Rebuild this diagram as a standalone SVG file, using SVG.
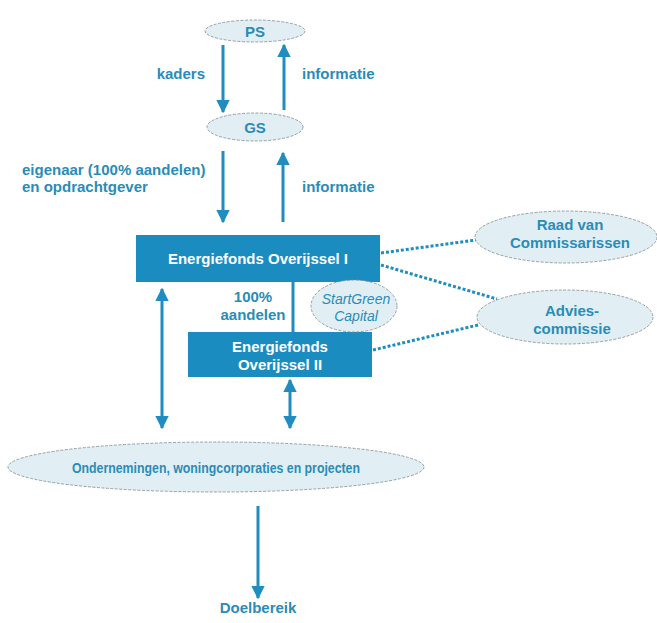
<svg xmlns="http://www.w3.org/2000/svg" width="657" height="623" viewBox="0 0 657 623">
<defs>
<marker id="ah" viewBox="0 0 10 10" refX="9" refY="5" markerWidth="4.5" markerHeight="4.5" orient="auto-start-reverse" markerUnits="strokeWidth">
<path d="M0,0 L10,5 L0,10 Z" fill="#1f8dbf"/>
</marker>
</defs>
<style>
.t{font-family:"Liberation Sans",Arial,sans-serif;font-weight:bold;font-size:15px;fill:#2a8cb7;}
.w{font-family:"Liberation Sans",Arial,sans-serif;font-weight:bold;font-size:15px;fill:#ffffff;}
.i{font-family:"Liberation Sans",Arial,sans-serif;font-style:italic;font-size:14px;fill:#2a8cb7;}
.el{fill:#e1eff5;stroke:#7f8c92;stroke-width:0.8;stroke-dasharray:3 1.5;}
.box{fill:#1b8cc0;}
.ar{stroke:#1f8dbf;stroke-width:3;fill:none;marker-end:url(#ah);}
.ar2{stroke:#1f8dbf;stroke-width:3;fill:none;marker-end:url(#ah);marker-start:url(#ah);}
.dot{stroke:#1f8dbf;stroke-width:3;stroke-dasharray:3 2;fill:none;}
</style>
<rect width="657" height="623" fill="#ffffff"/>
<g id="connectors">
<line class="ar" x1="223" y1="45" x2="223" y2="112"/>
<line class="ar" x1="284" y1="110" x2="284" y2="45"/>
<line class="ar" x1="223" y1="151" x2="223" y2="222"/>
<line class="ar" x1="283" y1="222" x2="283" y2="153"/>
<line stroke="#1f8dbf" stroke-width="3" x1="293" y1="282" x2="293" y2="332"/>
<line class="ar2" x1="162" y1="289" x2="162" y2="428"/>
<line class="ar2" x1="290" y1="380" x2="290" y2="428"/>
<line class="ar" x1="258" y1="506" x2="258" y2="598"/>
<line class="dot" x1="381" y1="253" x2="476" y2="240"/>
<line class="dot" x1="381" y1="265" x2="497" y2="299"/>
<line class="dot" x1="373" y1="350" x2="478" y2="325"/>
<text class="t" x="205" y="79" text-anchor="end">kaders</text>
<text class="t" x="302" y="79">informatie</text>
<text class="t" x="22" y="175">eigenaar (100% aandelen)</text>
<text class="t" x="22" y="192">en opdrachtgever</text>
<text class="t" x="302" y="192">informatie</text>
<text class="t" x="253" y="302" text-anchor="middle">100%</text>
<text class="t" x="253" y="320" text-anchor="middle">aandelen</text>
</g>
<g id="ps">
<ellipse class="el" cx="255" cy="31" rx="50" ry="11"/>
<text class="t" x="255" y="36.5" text-anchor="middle">PS</text>
</g>
<g id="gs">
<ellipse class="el" cx="255" cy="127" rx="48" ry="14"/>
<text class="t" x="255" y="132.5" text-anchor="middle">GS</text>
</g>
<g id="efo1">
<rect class="box" x="136" y="235" width="244" height="47"/>
<text class="w" x="258" y="263.5" text-anchor="middle">Energiefonds Overijssel I</text>
</g>
<g id="efo2">
<rect class="box" x="188" y="332" width="184" height="45"/>
<text class="w" x="280" y="352" text-anchor="middle">Energiefonds</text>
<text class="w" x="280" y="370" text-anchor="middle">Overijssel II</text>
</g>
<g id="startgreen">
<ellipse class="el" cx="354" cy="306" rx="43" ry="26"/>
<text class="i" x="356" y="304" text-anchor="middle">StartGreen</text>
<text class="i" x="356" y="321" text-anchor="middle">Capital</text>
</g>
<g id="rvc">
<ellipse class="el" cx="566" cy="237" rx="91" ry="26"/>
<text class="t" x="570" y="230" text-anchor="middle">Raad van</text>
<text class="t" x="570" y="248" text-anchor="middle">Commissarissen</text>
</g>
<g id="advies">
<ellipse class="el" cx="565" cy="317" rx="88" ry="27"/>
<text class="t" x="572" y="316" text-anchor="middle">Advies-</text>
<text class="t" x="572" y="334" text-anchor="middle">commissie</text>
</g>
<g id="ondernemingen">
<ellipse class="el" cx="216" cy="467" rx="208" ry="25"/>
<text class="t" x="216" y="473" text-anchor="middle" style="font-size:14px" textLength="288" lengthAdjust="spacingAndGlyphs">Ondernemingen, woningcorporaties en projecten</text>
</g>
<g id="doelbereik">
<text class="t" x="258" y="613" text-anchor="middle">Doelbereik</text>
</g>
</svg>
